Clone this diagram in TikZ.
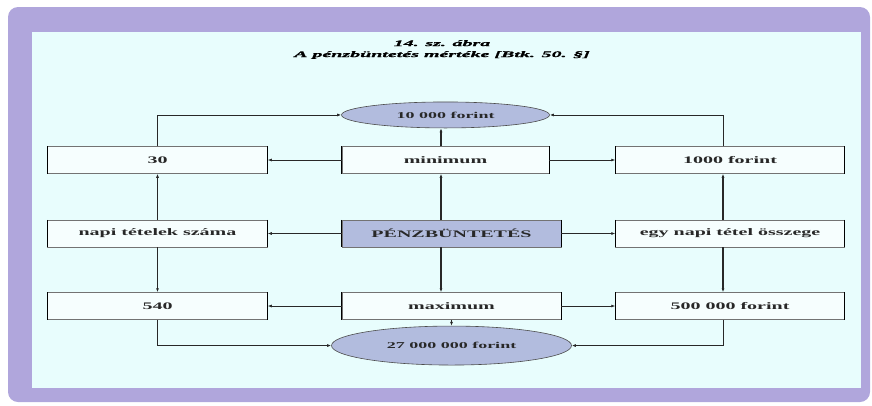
\documentclass[tikz,border=0pt]{standalone}
\usepackage{fontspec}
\setmainfont{Liberation Serif}
\newfontfamily\widefont[FakeStretch=2.0]{Liberation Serif}
\newfontfamily\titlefont[FakeStretch=2.35,FakeBold=1.2]{Liberation Serif}
\usetikzlibrary{arrows.meta,positioning,shapes.geometric}
\definecolor{framepurple}{RGB}{176,166,220}
\definecolor{paper}{RGB}{232,253,253}
\definecolor{penblue}{RGB}{178,188,222}
\definecolor{inkgray}{RGB}{40,40,40}
\tikzset{
    line/.style   = {-{Latex[length=4pt,width=3pt]}, line width=0.6pt, draw=inkgray},
    vline/.style  = {line, line width=1.3pt},
    elbow/.style  = {line, line width=0.8pt},
    block/.style  = {draw=black!55, line width=0.5pt, fill=white!60!paper,
            minimum width=220pt, minimum height=27pt, inner sep=0pt,
            font=\widefont\bfseries\fontsize{10}{12}\selectfont, text=inkgray,
            append after command={(\tikzlastnode.north west) edge[draw=black, line width=1.4pt, -] (\tikzlastnode.south west)
                (\tikzlastnode.north east) edge[draw=black, line width=1.4pt, -] (\tikzlastnode.south east)}},
    mainblock/.style = {block, fill=penblue},
    limit/.style  = {ellipse, draw=black!70, line width=0.6pt, fill=penblue,
            inner sep=0pt, text=inkgray,
            font=\widefont\bfseries\fontsize{9}{11}\selectfont},
}

\begin{document}
\begin{tikzpicture}[x=1pt,y=1pt]
    \useasboundingbox (0,0) rectangle (872,-405);
    % Frame
    \fill[framepurple, rounded corners=10pt] (8,-7) rectangle (870,-402);
    \fill[paper] (32,-32) rectangle (861,-388);
    \node[font=\titlefont\bfseries\itshape\fontsize{8.5}{11}\selectfont, align=center, text=black]
        (cim) at (442,-49.5) {14. sz. ábra\\A pénzbüntetés mértéke [Btk. 50. §]};
    % Nodes
    \node[mainblock, minimum width=219pt] (pen) at (451.5,-233.5) {PÉNZBÜNTETÉS};
    \node[block, minimum width=207pt, above right=46pt and 0pt of pen.north west] (mini) {minimum};
    \node[block, minimum width=219pt, below=45pt of pen] (maxi) {maximum};
    \node[block, left=74pt of pen] (napi) {napi tételek száma};
    \node[block, minimum width=229pt, right=54pt of pen] (egy) {egy napi tétel összege};
    \node[block, above=46pt of napi] (harminc) {30};
    \node[block, below=45pt of napi] (otszaz) {540};
    \node[block, minimum width=229pt, above=46pt of egy] (ezer) {1000 forint};
    \node[block, minimum width=229pt, below=45pt of egy] (felmillio) {500 000 forint};
    \node[limit, minimum width=208pt, minimum height=26pt, above=18pt of mini] (alsohatar) {10 000 forint};
    \node[limit, minimum width=240pt, minimum height=39pt, below=6pt of maxi] (felsohatar) {27 000 000 forint};
    \coordinate (kozep) at (441,0);
    \coordinate (jobb) at (723,0);
    % Arrows
    \draw[vline] (pen.north -| kozep) -- (mini.south -| kozep);
    \draw[vline] (pen.south -| kozep) -- (maxi.north -| kozep);
    \draw[vline] (mini.north -| kozep) -- (alsohatar.south -| kozep);
    \draw[line] (maxi.south -| felsohatar.north) -- (felsohatar.north);
    \draw[vline] (napi.north) -- (harminc.south);
    \draw[vline] (napi.south) -- (otszaz.north);
    \draw[vline] (egy.north -| jobb) -- (ezer.south -| jobb);
    \draw[vline] (egy.south -| jobb) -- (felmillio.north -| jobb);
    \draw[line] (mini.west) -- (harminc.east);
    \draw[line] (mini.east) -- (ezer.west);
    \draw[line] (pen.west) -- (napi.east);
    \draw[line] (pen.east) -- (egy.west);
    \draw[line] (maxi.west) -- (otszaz.east);
    \draw[line] (maxi.east) -- (felmillio.west);
    \draw[elbow] (harminc.north) |- (alsohatar.west);
    \draw[elbow] (ezer.north -| jobb) |- (alsohatar.east);
    \draw[elbow] (otszaz.south) |- (felsohatar.west);
    \draw[elbow] (felmillio.south -| jobb) |- (felsohatar.east);
\end{tikzpicture}
\end{document}
